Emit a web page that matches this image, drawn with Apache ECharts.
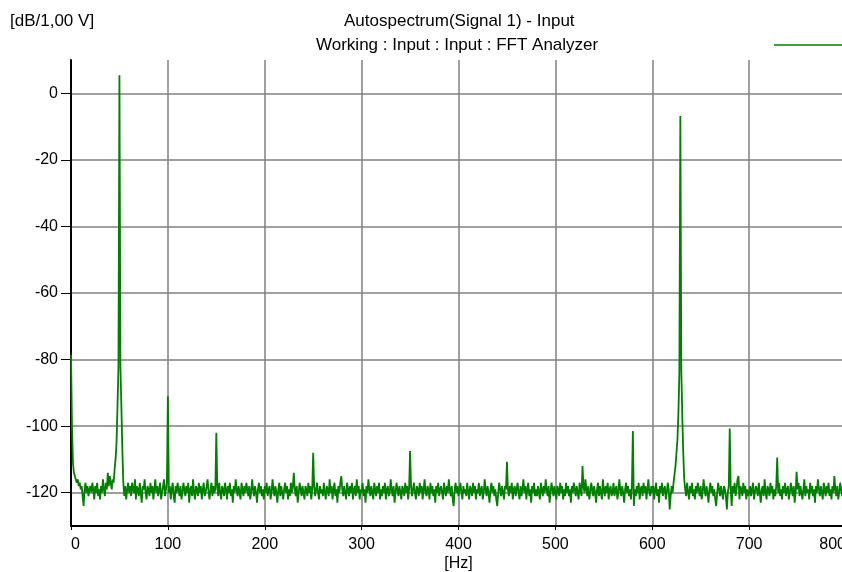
<!DOCTYPE html>
<html>
<head>
<meta charset="utf-8">
<title>Autospectrum(Signal 1) - Input</title>
<script src="https://cdn.jsdelivr.net/npm/echarts@6/dist/echarts.min.js"></script>
<style>
  html, body { margin: 0; padding: 0; background: #ffffff; overflow: hidden; }
  /* the frequency axis runs a few pixels past the right window edge */
  #chart { width: 846px; height: 572px; }
</style>
</head>
<body>
<div id="chart"></div>
<script>
// Autospectrum of Signal 1, 0..800 Hz in 1 Hz lines, level in dB re 1,00 V
const seriesName = 'Autospectrum(Signal 1) - Input';
const subTitle = 'Working : Input : Input : FFT Analyzer';
const yUnit = '[dB/1,00 V]';
const xUnit = '[Hz]';

const freqStartHz = 0;
const freqStepHz = 1;

const yTickValues = [-120, -100, -80, -60, -40, -20, 0];

const levelsDb = [
  -78.5,-100,-111,-114,-115,-116,-117,-116,-118,-117,-119,-118,-121,-124,-119,-117,-120,-118,-121,-119,
  -118,-120,-117,-119,-122,-118,-120,-117,-121,-119,-122,-118,-120,-116,-119,-121,-117,-119,-114,-118,
  -115,-117,-119,-116,-117,-113,-110,-105,-94,-82,5.4,-82,-94,-107,-117,-121,-118,-122,-119,-117,
  -120,-118,-121,-117,-119,-120,-116,-122,-118,-119,-121,-117,-120,-123,-118,-119,-116,-120,-122,-118,
  -119,-121,-117,-120,-118,-122,-119,-116,-120,-118,-121,-119,-117,-122,-120,-118,-116,-121,-119,-117,
  -91,-120,-118,-122,-119,-117,-121,-123,-118,-120,-117,-119,-121,-118,-122,-120,-117,-119,-121,-118,
  -120,-117,-123,-119,-118,-121,-116,-120,-122,-118,-119,-121,-117,-120,-118,-122,-119,-117,-121,-120,
  -118,-116,-120,-122,-119,-117,-121,-118,-120,-119,-102,-118,-121,-117,-120,-122,-118,-119,-121,-117,
  -119,-122,-118,-120,-117,-121,-119,-123,-118,-120,-116,-119,-121,-118,-120,-122,-117,-119,-121,-118,
  -120,-117,-119,-121,-118,-122,-120,-116,-119,-121,-118,-120,-123,-119,-117,-120,-118,-121,-119,-122,
  -118,-120,-117,-121,-119,-118,-122,-120,-116,-119,-121,-118,-120,-123,-119,-117,-121,-118,-120,-122,
  -119,-117,-120,-118,-122,-119,-121,-117,-120,-118,-114,-119,-121,-118,-123,-120,-117,-119,-121,-118,
  -120,-122,-118,-119,-121,-117,-120,-118,-122,-119,-108,-118,-121,-119,-117,-120,-122,-118,-120,-119,
  -121,-117,-120,-122,-118,-119,-121,-116,-120,-118,-122,-119,-117,-121,-119,-123,-118,-120,-117,-115,
  -119,-121,-118,-120,-122,-117,-119,-121,-118,-120,-117,-122,-119,-118,-121,-116,-120,-118,-122,-119,
  -120,-117,-121,-119,-123,-118,-120,-116,-119,-121,-118,-120,-122,-117,-119,-121,-118,-120,-117,-122,
  -119,-121,-118,-120,-117,-122,-119,-118,-121,-120,-116,-119,-121,-118,-123,-120,-117,-119,-121,-118,
  -120,-122,-118,-119,-121,-117,-120,-118,-122,-119,-107.5,-118,-121,-119,-117,-120,-122,-118,-119,-121,
  -117,-120,-118,-122,-119,-116,-120,-121,-118,-119,-122,-117,-120,-118,-121,-119,-123,-118,-120,-117,
  -121,-119,-118,-120,-122,-117,-119,-121,-118,-120,-116,-119,-121,-118,-122,-124,-119,-117,-120,-118,
  -121,-119,-117,-120,-122,-118,-120,-119,-121,-117,-120,-122,-118,-119,-121,-117,-120,-118,-122,-119,
  -120,-117,-121,-119,-118,-122,-120,-116,-119,-121,-118,-120,-123,-119,-117,-120,-118,-121,-119,-122,
  -124,-120,-117,-119,-121,-118,-120,-122,-118,-119,-110.7,-119,-121,-118,-120,-117,-122,-119,-118,-121,
  -119,-117,-120,-122,-118,-121,-119,-116,-120,-118,-122,-119,-117,-121,-119,-123,-118,-120,-117,-121,
  -119,-121,-118,-120,-122,-117,-119,-121,-118,-120,-116,-119,-121,-118,-123,-120,-117,-119,-121,-118,
  -120,-122,-118,-119,-121,-117,-120,-118,-122,-119,-121,-117,-120,-118,-121,-119,-123,-118,-120,-117,
  -119,-121,-118,-120,-122,-117,-119,-121,-112,-118,-120,-116,-119,-121,-118,-122,-120,-117,-119,-121,
  -118,-120,-123,-119,-117,-121,-118,-120,-122,-116,-119,-121,-118,-120,-117,-122,-119,-118,-121,-120,
  -117,-121,-119,-118,-122,-120,-116,-119,-121,-118,-120,-123,-119,-117,-120,-118,-121,-119,-122,-118,
  -101.5,-124,-119,-121,-118,-120,-117,-122,-119,-118,-121,-117,-120,-118,-122,-119,-116,-120,-121,-118,
  -120,-118,-122,-119,-117,-121,-119,-123,-118,-120,-117,-121,-119,-118,-122,-120,-117,-119,-125,-121,
  -118,-120,-117,-117,-112,-108,-104,-96,-84,-6.8,-83,-97,-108,-116,-119,-121,-117,-120,-122,-118,
  -120,-117,-121,-119,-122,-118,-120,-117,-119,-121,-118,-122,-120,-116,-119,-121,-118,-120,-123,-119,
  -117,-120,-118,-121,-119,-122,-124,-120,-117,-119,-121,-118,-120,-122,-118,-119,-121,-125,-120,-118,
  -100.7,-119,-124,-118,-120,-117,-121,-119,-116,-115,-122,-118,-119,-121,-117,-120,-118,-122,-119,-121,
  -120,-118,-121,-119,-117,-122,-120,-118,-119,-121,-117,-120,-123,-119,-118,-121,-116,-120,-122,-118,
  -119,-121,-117,-120,-118,-122,-119,-121,-118,-109.4,-120,-117,-121,-119,-122,-118,-120,-117,-121,-119,
  -118,-122,-120,-117,-119,-121,-118,-123,-120,-113.7,-119,-117,-121,-118,-120,-122,-119,-116,-121,-118,
  -120,-119,-122,-117,-120,-118,-121,-119,-123,-118,-120,-116,-119,-121,-118,-120,-122,-117,-119,-121,
  -118,-120,-117,-121,-119,-122,-118,-120,-115,-119,-121,-118,-122,-120,-117,-119,-121,-118,-120,-116,
  -119
];

const spectrum = levelsDb.map((db, i) => [freqStartHz + i * freqStepHz, db]);

const FONT = '"Liberation Sans", Arial, sans-serif';
const GRID_GRAY = '#808080';
const TRACE_GREEN = '#007f00';

const chart = echarts.init(document.getElementById('chart'), null, { renderer: 'canvas' });

const titleText = { fontFamily: FONT, fontSize: 17, fontWeight: 'normal', color: '#000' };

chart.setOption({
  animation: false,
  backgroundColor: '#ffffff',
  textStyle: { fontFamily: FONT },
  title: [
    { text: seriesName, left: 344, top: 13, padding: 0, textStyle: titleText },
    { text: subTitle, left: 316, top: 37, padding: 0, textStyle: titleText },
    { text: yUnit, left: 10, top: 13, padding: 0, textStyle: titleText }
  ],
  legend: {
    left: 774, top: 39, padding: 0,
    icon: 'rect',
    itemWidth: 80, itemHeight: 1.5,
    textStyle: { fontSize: 12, color: '#000' },
    data: [seriesName]
  },
  grid: {
    left: 71, right: 0, top: 60, bottom: 46,
    containLabel: false,
    outerBoundsMode: 'none'
  },
  xAxis: {
    type: 'value',
    min: 0, max: 800, interval: 100,
    name: xUnit,
    nameLocation: 'middle',
    nameGap: 30,
    nameMoveOverlap: false,
    nameTextStyle: { fontFamily: FONT, fontSize: 16, color: '#000' },
    axisLine: { show: true, onZero: false, lineStyle: { color: '#000', width: 2 } },
    axisTick: { show: true, length: 4, lineStyle: { color: '#000', width: 1 } },
    axisLabel: {
      fontFamily: FONT, fontSize: 16, color: '#000', margin: 11,
      alignMinLabel: 'left', alignMaxLabel: 'right'
    },
    splitLine: { show: true, lineStyle: { color: GRID_GRAY, width: 1.5 } }
  },
  yAxis: {
    type: 'value',
    min: -130, max: 10, interval: 10,
    axisLine: { show: true, onZero: false, lineStyle: { color: '#000', width: 2 } },
    axisTick: { show: true, length: 10, customValues: yTickValues, lineStyle: { color: '#000', width: 1 } },
    axisLabel: {
      fontFamily: FONT, fontSize: 16, color: '#000', margin: 13,
      customValues: yTickValues
    },
    splitLine: { show: true, lineStyle: { color: GRID_GRAY, width: 1.5 } }
  },
  series: [
    {
      name: seriesName,
      type: 'line',
      data: spectrum,
      showSymbol: false,
      symbol: 'none',
      sampling: null,
      clip: true,
      color: TRACE_GREEN,
      lineStyle: { color: TRACE_GREEN, width: 1.8 }
    }
  ]
});
</script>
</body>
</html>
